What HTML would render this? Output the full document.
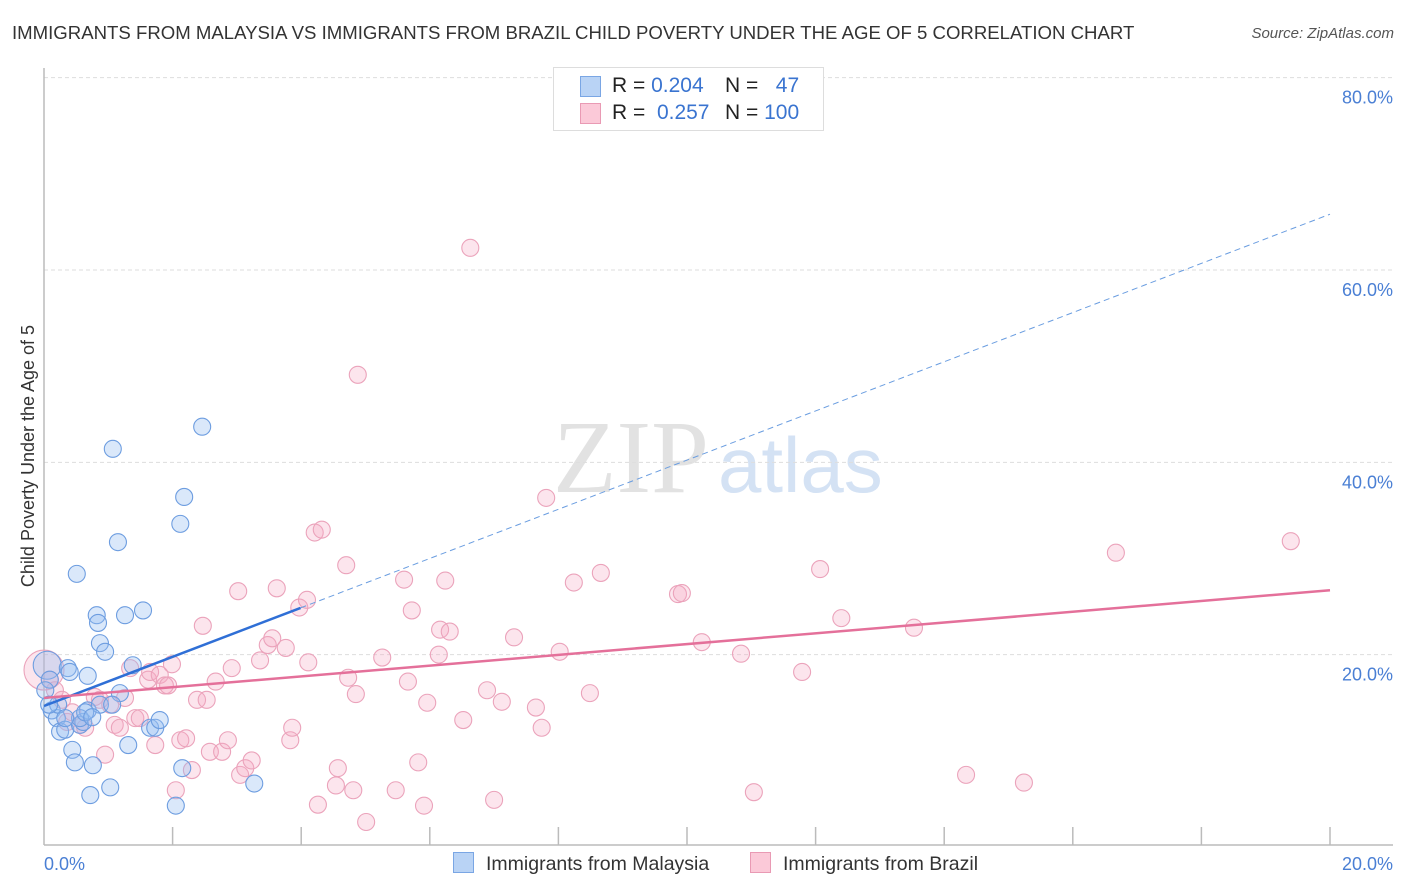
<!DOCTYPE html>
<html><head><meta charset="utf-8"><style>
body{margin:0;background:#fff;font-family:"Liberation Sans",sans-serif;}
#wrap{position:relative;width:1406px;height:892px;overflow:hidden;}
</style></head><body>
<div id="wrap">
<div style="position:absolute;left:12px;top:22px;font-size:18.6px;color:#333;">IMMIGRANTS FROM MALAYSIA VS IMMIGRANTS FROM BRAZIL CHILD POVERTY UNDER THE AGE OF 5 CORRELATION CHART</div>
<div style="position:absolute;right:12px;top:25px;font-size:15px;color:#555;font-style:italic;">Source: ZipAtlas.com</div>
<svg id="svg" width="1406" height="892" style="position:absolute;left:0;top:0"></svg>
</div>
<script>
const yTicks=[20,40,60,80];
const yTickLabels=["20.0%","40.0%","60.0%","80.0%"];
const xTickLabels=["0.0%","20.0%"];
const blueX=[0.05,0.09,0.12,0.2,0.25,0.33,0.37,0.4,0.44,0.48,0.51,0.56,0.61,0.68,0.72,0.76,0.82,0.84,0.87,0.95,1.03,1.07,1.15,1.18,1.26,1.31,1.38,1.54,1.65,1.73,1.8,2.12,2.15,2.18,2.05,2.46,3.27,0.68,0.87,1.06,0.22,0.02,0.56,0.33,0.64,0.75,0.08];
const blueY=[18.9,17.4,14.2,13.4,12.0,12.2,18.6,18.2,10.1,8.8,28.4,12.7,13.0,17.8,5.4,8.5,24.1,23.3,21.2,20.3,6.2,41.4,31.7,16.0,24.1,10.6,18.9,24.6,12.4,12.4,13.2,33.6,8.2,36.4,4.3,43.7,6.6,14.2,14.8,14.8,14.8,16.3,13.4,13.4,14.0,13.5,14.8];
const pinkX=[0,.09,.17,.28,.36,.44,.56,.64,.79,.87,.95,1.03,1.1,1.18,1.26,1.34,1.42,1.49,1.62,1.65,1.73,1.8,1.88,1.93,1.99,2.05,2.12,2.21,2.3,2.38,2.47,2.53,2.58,2.67,2.77,2.86,2.92,3.02,3.05,3.13,3.23,3.36,3.48,3.55,3.62,3.76,3.83,3.86,3.97,4.09,4.11,4.21,4.26,4.32,4.54,4.57,4.7,4.73,4.81,4.85,4.88,5.01,5.26,5.47,5.6,5.66,5.72,5.82,5.91,5.96,6.14,6.16,6.24,6.31,6.52,6.63,6.89,7.0,7.12,7.31,7.65,7.74,7.81,8.02,8.24,8.49,8.66,9.86,9.92,10.23,10.84,11.04,11.79,12.07,12.4,13.53,14.34,15.24,16.67,19.39];
const pinkY=[18.4,17.4,16.3,15.3,13.0,14.0,12.7,12.4,15.6,15.3,9.6,14.8,12.7,12.4,15.5,18.6,13.4,13.4,17.4,18.2,10.6,17.9,16.8,16.8,19.0,5.9,11.1,11.3,8.0,15.3,23.0,15.3,9.9,17.2,9.9,11.1,18.6,26.6,7.5,8.2,9.0,19.4,21.0,21.7,26.9,20.7,11.1,12.4,24.9,25.7,19.2,32.7,4.4,33.0,6.4,8.2,29.3,17.6,5.9,15.9,49.1,2.6,19.7,5.9,27.8,17.2,24.6,8.8,4.3,15.0,20.0,22.6,27.7,22.4,13.2,62.3,16.3,4.9,15.1,21.8,14.5,12.4,36.3,20.3,27.5,16.0,28.5,26.3,26.4,21.3,20.1,5.7,18.2,28.9,23.8,22.8,7.5,6.7,30.6,31.8];
const blueTrend=[14.66,65.8];
const pinkTrend=[15.5,26.7];

const X0=44,X1=1330,Y0=847,PPY=9.617;
const sx=v=>X0+(X1-X0)*v/20;
const sy=v=>Y0-v*PPY;
const svg=document.getElementById('svg');
const NS='http://www.w3.org/2000/svg';
function mk(tag,attrs,parent){const e=document.createElementNS(NS,tag);for(const k in attrs)e.setAttribute(k,attrs[k]);(parent||svg).appendChild(e);return e;}

let wm=mk('text',{x:553,y:492,'font-family':'Liberation Serif,serif','font-size':104,fill:'#e2e2e2'});wm.textContent='ZIP';


let wm2=mk('text',{x:718,y:492,'font-family':'Liberation Sans,sans-serif','font-size':78,fill:'#d4e2f4'});wm2.textContent='atlas';



yTicks.forEach((t,i)=>{
 const g=mk('line',{x1:X0,x2:1393,y1:sy(t),y2:sy(t),stroke:'#ddd','stroke-dasharray':'4,3'});
 
 
 const l=mk('text',{x:1393,y:sy(t)+26,'text-anchor':'end','font-size':18,fill:'#4a7fd4'});
 l.textContent=yTickLabels[i];
 
 
});
let ax=mk('line',{x1:X0,x2:1393,y1:845,y2:845,stroke:'#bbb','stroke-width':1.5});


let ay=mk('line',{x1:X0,x2:X0,y1:68,y2:845,stroke:'#bbb','stroke-width':1.5});


for(let i=1;i<=10;i++){const t=mk('line',{x1:sx(i*2),x2:sx(i*2),y1:827,y2:845,stroke:'#bbb','stroke-width':1.5});
 
 }
let xl0=mk('text',{x:44,y:870,'font-size':18,fill:'#4a7fd4'});xl0.textContent=xTickLabels[0];


let xl1=mk('text',{x:1393,y:870,'text-anchor':'end','font-size':18,fill:'#4a7fd4'});xl1.textContent=xTickLabels[1];


let yt=mk('text',{x:34,y:456,'font-size':18,fill:'#333','text-anchor':'middle',transform:'rotate(-90 34 456)'});yt.textContent='Child Poverty Under the Age of 5';



function pts(xs,ys,fill,stroke,name,big){
 xs.forEach((x,i)=>{const r=(i===0&&big)?big:8.5;
  const c=mk('circle',{cx:sx(x),cy:sy(ys[i]),r:r,fill:fill,stroke:stroke,'stroke-width':1.1});
  
  });
}
pts(pinkX,pinkY,'rgba(245,170,195,0.3)','#eba3bb','brazil-point',20);
pts(blueX,blueY,'rgba(150,190,240,0.35)','#6d9de0','malaysia-point',14);

const bx=3.99;
let bl=mk('line',{x1:sx(0),y1:sy(blueTrend[0]),x2:sx(bx),y2:sy(blueTrend[0]+(blueTrend[1]-blueTrend[0])*bx/20),stroke:'#2f6fd6','stroke-width':2.5});


let bd=mk('line',{x1:sx(bx),y1:sy(blueTrend[0]+(blueTrend[1]-blueTrend[0])*bx/20),x2:sx(20),y2:sy(blueTrend[1]),stroke:'#6a9de0','stroke-width':1,'stroke-dasharray':'6,4'});


let pl=mk('line',{x1:sx(0),y1:sy(pinkTrend[0]),x2:sx(20),y2:sy(pinkTrend[1]),stroke:'#e4709a','stroke-width':2.5});


</script>
<div style="position:absolute;left:553px;top:67px;width:269px;height:62px;border:1px solid #ddd;background:#fff;font-size:21px;">
 <div style="position:absolute;left:26px;top:8px;width:19px;height:19px;background:#b9d3f5;border:1px solid #7aa6e4"></div>
 <div style="position:absolute;left:58px;top:6px;color:#222">R = <span style="color:#3a74d0">0.204</span></div>
 <div style="position:absolute;left:171px;top:6px;color:#222">N = &nbsp;&nbsp;<span style="color:#3a74d0">47</span></div>
 <div style="position:absolute;left:26px;top:35px;width:19px;height:19px;background:#fbc9d8;border:1px solid #e99ab4"></div>
 <div style="position:absolute;left:58px;top:33px;color:#222">R = &nbsp;<span style="color:#3a74d0">0.257</span></div>
 <div style="position:absolute;left:171px;top:33px;color:#222">N = <span style="color:#3a74d0">100</span></div>
</div>
<div style="position:absolute;left:453px;top:852px;font-size:19.5px;color:#333;">
 <span style="position:absolute;left:0;top:0;white-space:nowrap"><span style="display:inline-block;width:19px;height:19px;background:#b9d3f5;border:1px solid #7aa6e4;vertical-align:-3px;margin-right:12px"></span>Immigrants from Malaysia</span>
 <span style="position:absolute;left:297px;top:0;white-space:nowrap"><span style="display:inline-block;width:19px;height:19px;background:#fbc9d8;border:1px solid #e99ab4;vertical-align:-3px;margin-right:12px"></span>Immigrants from Brazil</span>
</div>
</body></html>
